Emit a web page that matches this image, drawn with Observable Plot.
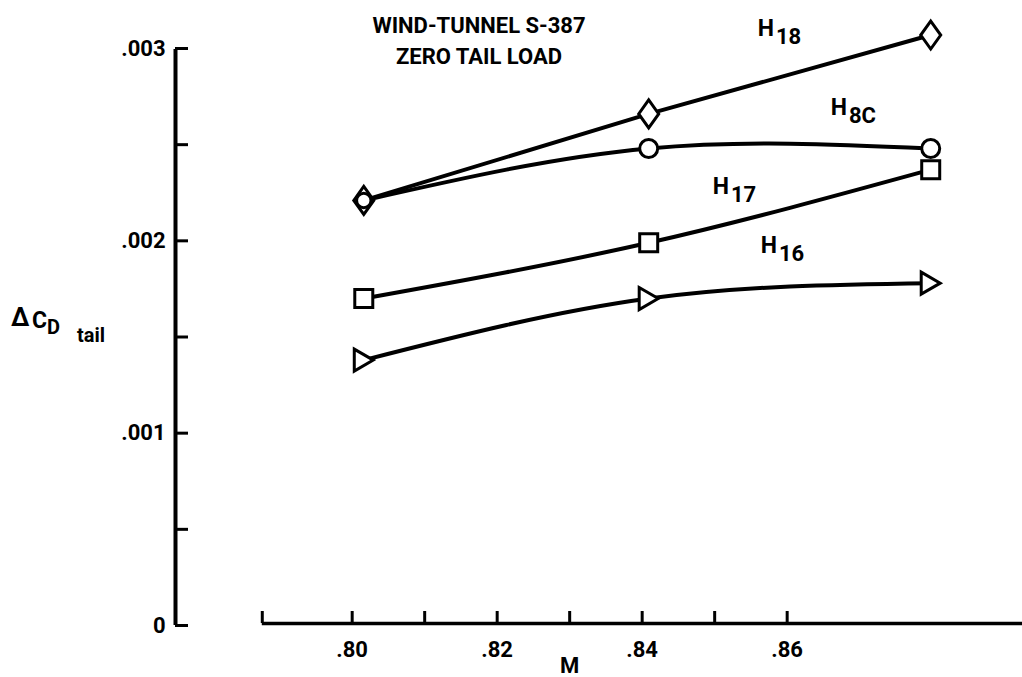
<!DOCTYPE html>
<html>
<head>
<meta charset="utf-8">
<script src="https://cdn.jsdelivr.net/npm/d3@7"></script>
<script src="https://cdn.jsdelivr.net/npm/@observablehq/plot@0.6"></script>
<style>
  html, body { margin: 0; padding: 0; background: #fff; overflow: hidden; }
  #chart { position: relative; width: 1022px; height: 677px; }
  svg { display: block; }
</style>
</head>
<body>
<div id="chart"></div>
<script>
// ---- data ----
const machNumbers = [0.8016, 0.8409, 0.8798];
const seriesNames = ["H18", "H8C", "H17", "H16"];
const seriesSub = ["18", "8C", "17", "16"];
const valuesH18 = [0.00221, 0.00266, 0.00307];
const valuesH8C = [0.00221, 0.00248, 0.00248];
const valuesH17 = [0.00170, 0.00199, 0.00237];
const valuesH16 = [0.00138, 0.00170, 0.00178];
const xTicks = [0.80, 0.81, 0.82, 0.83, 0.84, 0.85, 0.86];
const xTickLabels = [".80", ".82", ".84", ".86"];
const xLabelValues = [0.80, 0.82, 0.84, 0.86];
const yTicks = [0, 0.0005, 0.001, 0.0015, 0.002, 0.0025, 0.003];
const yTickLabels = ["0", ".001", ".002", ".003"];
const yLabelValues = [0, 0.001, 0.002, 0.003];
const xDomain = [0.77563, 0.89246];
const xAxisStart = 0.7876;
const yDomain = [0, 0.003];
const titleLines = ["WIND-TUNNEL S-387", "ZERO TAIL LOAD"];
const xAxisLabel = "M";

const seriesValues = [valuesH18, valuesH8C, valuesH17, valuesH16];
const rows = seriesNames.flatMap((s, k) =>
  machNumbers.map((m, i) => ({series: s, M: m, cd: seriesValues[k][i]})));

// ---- symbols ----
const rad = s => Math.sqrt(s / Math.PI);
const diamondSym = {draw(c, s) { const r = rad(s), w = r, h = r * 1.4;
  c.moveTo(0, -h); c.lineTo(w, 0); c.lineTo(0, h); c.lineTo(-w, 0); c.closePath(); }};
const circleSym = {draw(c, s) { const r = rad(s) * 0.9;
  c.moveTo(r, 0); c.arc(0, 0, r, 0, 2 * Math.PI); c.closePath(); }};
const squareSym = {draw(c, s) { const r = rad(s) * 0.9;
  c.moveTo(-r, -r); c.lineTo(r, -r); c.lineTo(r, r); c.lineTo(-r, r); c.closePath(); }};
const triSym = {draw(c, s) { const r = rad(s), a = r * 0.95, h = r * 1.1;
  c.moveTo(-a, -h); c.lineTo(a, 0); c.lineTo(-a, h); c.closePath(); }};
const symbols = {H18: diamondSym, H8C: circleSym, H17: squareSym, H16: triSym};

// label offsets (pixels) relative to each series' middle point
const labelOffset = {H18: [109, -78], H8C: [182, -34], H17: [64, -49], H16: [112, -46]};

const font = "Roboto, 'Liberation Sans', Arial, sans-serif";

const midRows = rows.filter(d => d.M === machNumbers[1]);
// the circle that sits inside the shared first diamond is drawn a little smaller
const markerR = (s) => (d) => (s === "H8C" && d.M === machNumbers[0] ? 8 : 10);

const plot = Plot.plot({
  width: 1022,
  height: 677,
  marginLeft: 175,
  marginRight: 0,
  marginTop: 48,
  marginBottom: 52,
  style: {background: "#fff", color: "#000", fontFamily: font},
  x: {domain: xDomain, axis: null},
  y: {domain: yDomain, axis: null},
  r: {type: "identity"},
  marks: [
    // y axis line
    Plot.ruleX([xDomain[0]], {x: d => d, y1: () => yDomain[0], y2: () => yDomain[1], strokeWidth: 4, insetBottom: -1}),
    // y ticks (pointing inward)
    Plot.ruleY(yTicks, {y: d => d, x1: () => xDomain[0], x2: () => xDomain[0], insetRight: -13, strokeWidth: 3}),
    // y tick labels
    Plot.text(yLabelValues, {x: () => xDomain[0], y: d => d, text: (d, i) => yTickLabels[i], textAnchor: "end", dx: -10, fontSize: 22, fontWeight: "bold"}),
    // x axis line
    Plot.ruleY([0], {y: d => d, x1: () => xAxisStart, x2: () => xDomain[1], strokeWidth: 3.5, dy: -2}),
    // x ticks (pointing up)
    Plot.ruleX([xAxisStart, ...xTicks], {x: d => d, y1: () => 0, y2: () => 0, insetTop: -12, dy: -2, strokeWidth: 3}),
    // x tick labels
    Plot.text(xLabelValues, {x: d => d, y: () => 0, text: (d, i) => xTickLabels[i], dy: 24, fontSize: 22, fontWeight: "bold"}),
    // x axis label
    Plot.text([xAxisLabel], {x: () => (xTicks[0] + xTicks[xTicks.length - 1]) / 2, y: () => 0, text: d => d, dy: 40, fontSize: 22, fontWeight: "bold"}),
    // curves
    Plot.line(rows.filter(d => d.series === "H18"), {x: "M", y: "cd", stroke: "#000", strokeWidth: 4, curve: "linear"}),
    Plot.line(rows.filter(d => d.series !== "H18"), {x: "M", y: "cd", z: "series", stroke: "#000", strokeWidth: 4, curve: "natural"}),
    // markers
    ...seriesNames.map(s => Plot.dot(rows.filter(d => d.series === s), {x: "M", y: "cd", r: markerR(s), symbol: symbols[s], fill: "#fff", stroke: "#000", strokeWidth: 3})),
    // series labels: "H" + subscript (offsets applied below)
    Plot.text(midRows, {x: "M", y: "cd", text: () => "H", textAnchor: "start", lineAnchor: "bottom", fontSize: 23, fontWeight: "bold"}),
  ]
});

document.getElementById("chart").appendChild(plot);

const svg = d3.select(plot);
const labelG = svg.selectAll("g[aria-label='text']").filter((d, i, n) => i === n.length - 1);
labelG.selectAll("text").each(function(_, i) {
  const s = midRows[i].series;
  const [ox, oy] = labelOffset[s];
  const t = d3.select(this);
  const tr = t.attr("transform") || "";
  t.attr("transform", tr + ` translate(${ox},${oy})`);
  t.append("tspan").attr("dx", 2).attr("dy", 8).attr("font-size", 22).text(seriesSub[seriesNames.indexOf(s)]);
});

// title
const title = svg.append("g").attr("font-family", font).attr("font-weight", "bold").attr("font-size", 22).attr("text-anchor", "middle");
title.append("text").attr("x", 479).attr("y", 33).text(titleLines[0]);
title.append("text").attr("x", 479).attr("y", 64).text(titleLines[1]);

// y-axis label: Δ C_D tail
const yl = svg.append("text").attr("font-family", font).attr("font-weight", "bold").attr("text-anchor", "start").attr("font-size", 23);
yl.append("tspan").attr("x", 11).attr("y", 326).attr("font-size", 25).text("Δ");
yl.append("tspan").attr("x", 32).attr("y", 328).text("C");
yl.append("tspan").attr("x", 47).attr("y", 334).attr("font-size", 20).text("D");
yl.append("tspan").attr("x", 77).attr("y", 342).attr("font-size", 20).text("tail");
</script>
</body>
</html>
